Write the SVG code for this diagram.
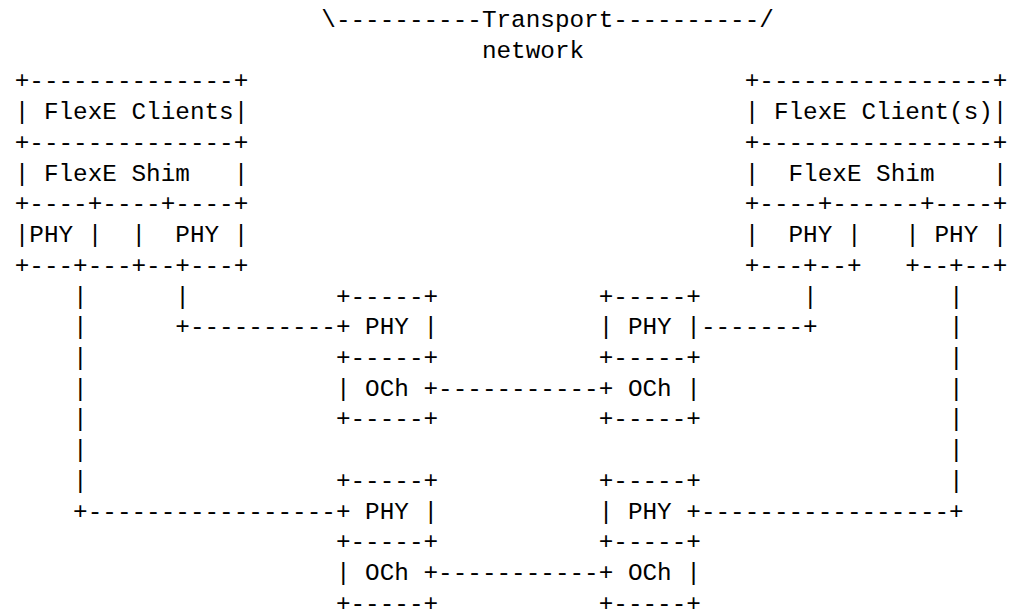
<svg xmlns="http://www.w3.org/2000/svg" width="1025" height="610" viewBox="0 0 1025 610">
<style>
text { font-family: "Liberation Mono", "DejaVu Sans Mono", monospace; font-size: 24.33px; fill: #000; white-space: pre; }
</style>
<rect width="1025" height="610" fill="#fff"/>
<g id="transport-network">
<text x="321.3" y="27">\----------Transport----------/</text>
<text x="481.9" y="57.7">network</text>
</g>
<g id="left-endpoint">
<text x="14.7" y="88.4">+--------------+</text>
<text x="14.7" y="119.2">| FlexE Clients|</text>
<text x="14.7" y="149.9">+--------------+</text>
<text x="14.7" y="180.6">| FlexE Shim   |</text>
<text x="14.7" y="211.3">+----+----+----+</text>
<text x="14.7" y="242.0">|PHY |  |  PHY |</text>
<text x="14.7" y="272.8">+---+---+--+---+</text>
</g>
<g id="right-endpoint">
<text x="744.7" y="88.4">+----------------+</text>
<text x="744.7" y="119.2">| FlexE Client(s)|</text>
<text x="744.7" y="149.9">+----------------+</text>
<text x="744.7" y="180.6">|  FlexE Shim    |</text>
<text x="744.7" y="211.3">+----+------+----+</text>
<text x="744.7" y="242.0">|  PHY |   | PHY |</text>
<text x="744.7" y="272.8">+---+--+   +--+--+</text>
</g>
<g id="transport-node-1a">
<text x="335.9" y="303.5">+-----+</text>
<text x="335.9" y="334.2">+ PHY |</text>
<text x="335.9" y="364.9">+-----+</text>
<text x="335.9" y="395.6">| OCh +</text>
<text x="335.9" y="426.4">+-----+</text>
</g>
<g id="transport-node-1b">
<text x="598.7" y="303.5">+-----+</text>
<text x="598.7" y="334.2">| PHY |</text>
<text x="598.7" y="364.9">+-----+</text>
<text x="598.7" y="395.6">+ OCh |</text>
<text x="598.7" y="426.4">+-----+</text>
</g>
<g id="transport-node-2a">
<text x="335.9" y="487.8">+-----+</text>
<text x="335.9" y="518.5">+ PHY |</text>
<text x="335.9" y="549.2">+-----+</text>
<text x="335.9" y="580.0">| OCh +</text>
<text x="335.9" y="610.7">+-----+</text>
</g>
<g id="transport-node-2b">
<text x="598.7" y="487.8">+-----+</text>
<text x="598.7" y="518.5">| PHY +</text>
<text x="598.7" y="549.2">+-----+</text>
<text x="598.7" y="580.0">+ OCh |</text>
<text x="598.7" y="610.7">+-----+</text>
</g>
<g id="connectors">
<text x="73.1" y="303.5">|</text>
<text x="73.1" y="334.2">|</text>
<text x="73.1" y="364.9">|</text>
<text x="73.1" y="395.6">|</text>
<text x="73.1" y="426.4">|</text>
<text x="73.1" y="457.1">|</text>
<text x="73.1" y="487.8">|</text>
<text x="73.1" y="518.5">+-----------------</text>
<text x="175.3" y="303.5">|</text>
<text x="175.3" y="334.2">+----------</text>
<text x="438.1" y="395.6">-----------</text>
<text x="438.1" y="580.0">-----------</text>
<text x="700.9" y="334.2">-------+</text>
<text x="803.1" y="303.5">|</text>
<text x="949.1" y="303.5">|</text>
<text x="949.1" y="334.2">|</text>
<text x="949.1" y="364.9">|</text>
<text x="949.1" y="395.6">|</text>
<text x="949.1" y="426.4">|</text>
<text x="949.1" y="457.1">|</text>
<text x="949.1" y="487.8">|</text>
<text x="700.9" y="518.5">-----------------+</text>
</g>
</svg>
